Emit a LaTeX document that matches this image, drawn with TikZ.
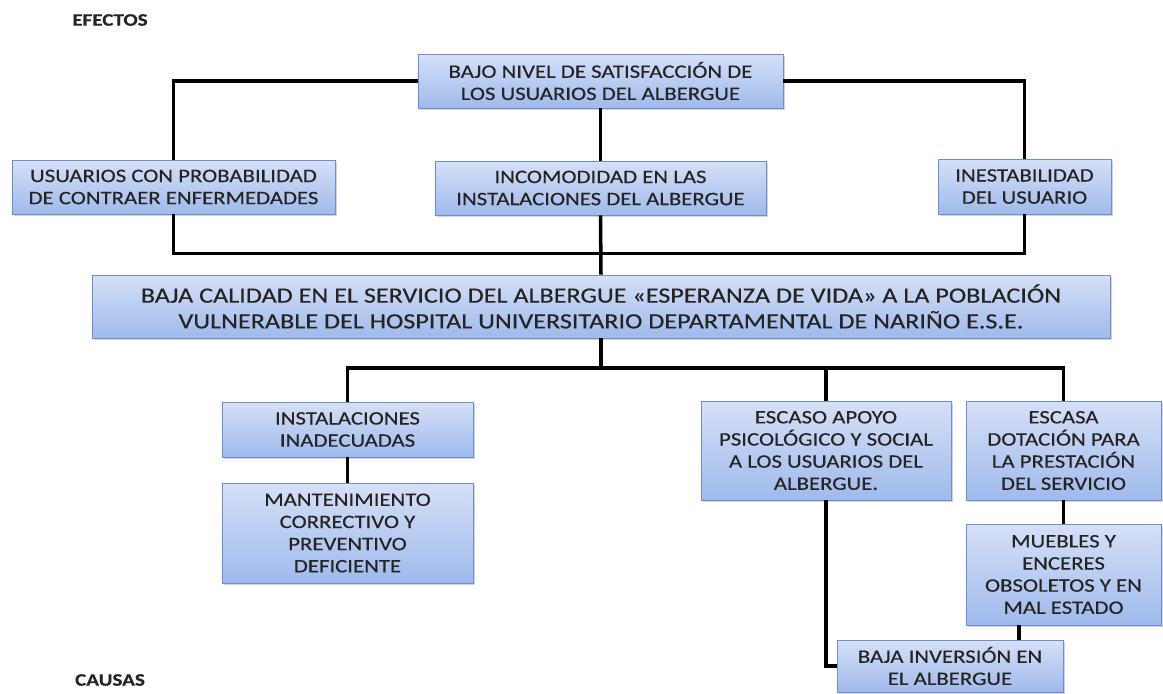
\documentclass[tikz,border=0pt]{standalone}
\usepackage{fontspec}
\setmainfont{Carlito}[FakeStretch=1.2, FakeBold=0.4]
\usepackage{tikz}
\usetikzlibrary{calc,shadows}

\definecolor{boxtop}{RGB}{214,224,247}
\definecolor{boxbot}{RGB}{158,186,236}
\definecolor{boxline}{RGB}{112,142,204}
\definecolor{textcol}{RGB}{38,36,34}

\begin{document}
\begin{tikzpicture}[x=0.03cm,y=-0.03cm,
    box/.style={draw=boxline, line width=0.6pt, top color=boxtop, bottom color=boxbot,
      drop shadow={shadow xshift=1.5pt, shadow yshift=-1.5pt, opacity=0.35},
      text=textcol, align=center, inner sep=0pt,
      font=\fontsize{16.2}{18.9}\selectfont},
    bigbox/.style={box, font=\fontsize{18.6}{22}\selectfont},
    link/.style={line width=3pt},
    title/.style={text=textcol, font=\fontsize{15}{18}\selectfont\bfseries}]
    \useasboundingbox (0,0) rectangle (1163,694);

    % draw titles
    \node[title] (efectos) at (110,20) {EFECTOS};
    \node[title] (causas) at (110,680) {CAUSAS};

    % draw effects
    \node[box, minimum width=10.95cm, minimum height=1.62cm] (bajo) at (600.5,81)
      {BAJO NIVEL DE SATISFACCIÓN DE\\LOS USUARIOS DEL ALBERGUE};
    \node[box, minimum width=9.69cm, minimum height=1.62cm] (usuarios) at (173.5,187)
      {USUARIOS CON PROBABILIDAD\\DE CONTRAER ENFERMEDADES};
    \node[box, minimum width=9.93cm, minimum height=1.62cm] (incomodidad) at (600.5,188)
      {INCOMODIDAD EN LAS\\INSTALACIONES DEL ALBERGUE};
    \node[box, minimum width=5.19cm, minimum height=1.65cm] (inestabilidad) at (1024.5,186.5)
      {INESTABILIDAD\\DEL USUARIO};

    % draw central problem
    \node[bigbox, minimum width=30.54cm, minimum height=1.89cm] (problema) at (601,306.5)
      {BAJA CALIDAD EN EL SERVICIO DEL ALBERGUE «ESPERANZA DE VIDA» A LA POBLACIÓN\\
       VULNERABLE DEL HOSPITAL UNIVERSITARIO DEPARTAMENTAL DE NARIÑO E.S.E.};

    % draw causes
    \node[box, minimum width=7.53cm, minimum height=1.65cm] (instalaciones) at (347.5,429.5)
      {INSTALACIONES\\INADECUADAS};
    \node[box, minimum width=7.53cm, minimum height=3cm] (mantenimiento) at (347.5,533)
      {MANTENIMIENTO\\CORRECTIVO Y\\PREVENTIVO\\DEFICIENTE};
    \node[box, minimum width=7.5cm, minimum height=2.97cm] (apoyo) at (826,450.5)
      {ESCASO APOYO\\PSICOLÓGICO Y SOCIAL\\A LOS USUARIOS DEL\\ALBERGUE.};
    \node[box, minimum width=5.85cm, minimum height=2.97cm] (dotacion) at (1063.5,450.5)
      {ESCASA\\DOTACIÓN PARA\\LA PRESTACIÓN\\DEL SERVICIO};
    \node[box, minimum width=5.85cm, minimum height=3.03cm] (muebles) at (1063.5,574.5)
      {MUEBLES Y\\ENCERES\\OBSOLETOS Y EN\\MAL ESTADO};
    \node[box, minimum width=6.78cm, minimum height=1.56cm] (inversion) at (950,666)
      {BAJA INVERSIÓN EN\\EL ALBERGUE};

    % draw upper connectors
    \draw[link] (bajo.west) -| (usuarios.north);
    \draw[link] (bajo.east) -| (inestabilidad.north);
    \draw[link] (bajo.south) -- (incomodidad.north);
    \draw[link] (usuarios.south) -- ++(0,39) -| (inestabilidad.south);
    \draw[link] (incomodidad.south) -- (problema.north);

    % draw lower connectors
    \coordinate (cruce) at (601,368);
    \draw[link] (problema.south) -- (cruce);
    \draw[link] (instalaciones.north) |- (cruce) -| (dotacion.north);
    \draw[link] (apoyo.north) -- (apoyo.north |- cruce);
    \draw[link] (instalaciones.south) -- (mantenimiento.north);
    \draw[link] (dotacion.south) -- (muebles.north);
    \draw[link] ([xshift=-1.335cm]muebles.south) -- ([xshift=-1.335cm]muebles.south |- inversion.north);
    \draw[link] (apoyo.south) |- (inversion.west);

\end{tikzpicture}
\end{document}
